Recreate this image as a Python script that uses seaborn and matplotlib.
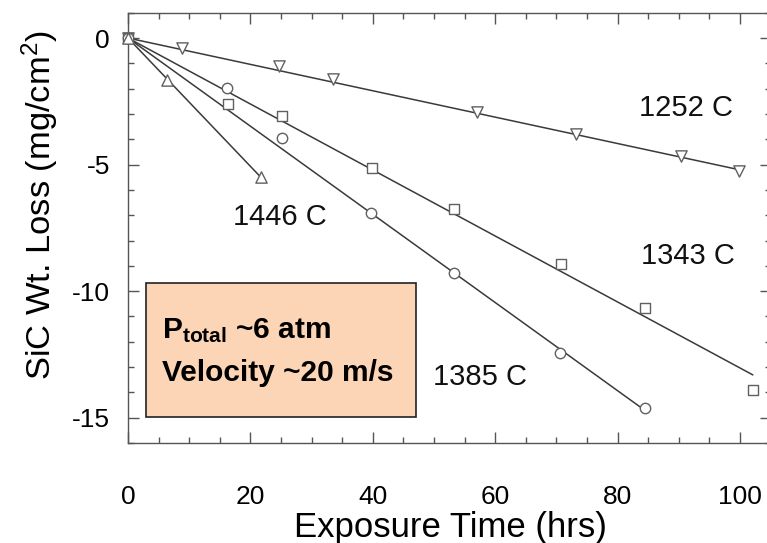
import matplotlib
matplotlib.use("Agg")
import matplotlib.pyplot as plt
from matplotlib.patches import Rectangle
from matplotlib.ticker import MultipleLocator
import seaborn as sns
import pandas as pd

# ---- data ----
t_1252 = [0, 8.9, 24.7, 33.5, 57.1, 73.2, 90.4, 99.8]
w_1252 = [0, -0.38, -1.10, -1.60, -2.93, -3.81, -4.66, -5.25]
t_1343 = [0, 16.3, 25.2, 39.9, 53.3, 70.75, 84.5, 102.1]
w_1343 = [0, -2.62, -3.10, -5.13, -6.75, -8.94, -10.66, -13.89]
t_1385 = [0, 16.1, 25.1, 39.7, 53.2, 70.6, 84.4]
w_1385 = [0, -1.99, -3.94, -6.90, -9.29, -12.43, -14.63]
t_1446 = [0, 6.3, 21.7]
w_1446 = [0, -1.66, -5.49]

# linear fit lines (end points; all start at origin)
fit_series = ["1252 C", "1343 C", "1385 C", "1446 C"]
fit_t_end = [99.8, 102.1, 84.4, 21.7]
fit_w_end = [-5.2, -13.31, -14.7, -5.5]

series_names = ["1252 C", "1343 C", "1385 C", "1446 C"]
series_markers = {"1252 C": "v", "1343 C": "s", "1385 C": "o", "1446 C": "^"}
series_sizes = {"1252 C": 66, "1343 C": 56, "1385 C": 56, "1446 C": 66}

pts = pd.concat([
    pd.DataFrame({"t": t_1252, "w": w_1252, "s": "1252 C"}),
    pd.DataFrame({"t": t_1343, "w": w_1343, "s": "1343 C"}),
    pd.DataFrame({"t": t_1385, "w": w_1385, "s": "1385 C"}),
    pd.DataFrame({"t": t_1446, "w": w_1446, "s": "1446 C"}),
], ignore_index=True)

fits = pd.concat([
    pd.DataFrame({"t": [0, te], "w": [0, we], "s": s})
    for s, te, we in zip(fit_series, fit_t_end, fit_w_end)
], ignore_index=True)

sns.set_theme(style="ticks")
plt.rcParams["font.family"] = ["Liberation Sans", "DejaVu Sans"]
plt.rcParams["axes.unicode_minus"] = False
plt.rcParams["mathtext.fontset"] = "custom"
plt.rcParams["mathtext.rm"] = "Liberation Sans"
plt.rcParams["mathtext.bf"] = "Liberation Sans:bold"
plt.rcParams["mathtext.it"] = "Liberation Sans:italic"
plt.rcParams["text.color"] = "black"
plt.rcParams["axes.labelcolor"] = "black"
plt.rcParams["xtick.labelcolor"] = "black"
plt.rcParams["ytick.labelcolor"] = "black"

fig = plt.figure(figsize=(7.67, 5.43), dpi=100)
ax = fig.add_axes([128 / 767, 100 / 543, (770.6 - 128) / 767, (443 - 12.7) / 543])

for s in series_names:
    sub = fits[fits.s == s]
    sns.lineplot(data=sub, x="t", y="w", ax=ax, color="#3a3a3a", lw=1.1,
                 sort=False, estimator=None, legend=False)
for s in series_names:
    sub = pts[pts.s == s]
    sns.scatterplot(data=sub, x="t", y="w", ax=ax, marker=series_markers[s],
                    s=series_sizes[s], facecolor="white", edgecolor="#606060",
                    linewidth=1.0, legend=False, zorder=3, clip_on=False)

ax.set_xlim(0, 105)
ax.set_ylim(-16, 1)
ax.xaxis.set_major_locator(MultipleLocator(20))
ax.xaxis.set_minor_locator(MultipleLocator(5))
ax.yaxis.set_major_locator(MultipleLocator(5))
ax.yaxis.set_minor_locator(MultipleLocator(1))
ax.tick_params(which="both", direction="in", top=True, right=True,
               color="#555555", width=1.0)
ax.tick_params(which="major", length=8)
ax.tick_params(which="minor", length=4)
ax.tick_params(axis="x", which="major", labelsize=19, pad=30)
ax.tick_params(axis="y", which="major", labelsize=19, pad=13)
for sp in ax.spines.values():
    sp.set_color("#555555")
    sp.set_linewidth(1.0)

ax.set_xlabel("Exposure Time (hrs)", fontsize=25)
ax.set_ylabel("SiC Wt. Loss (mg/cm$^2$)", fontsize=24.8)
ax.xaxis.set_label_coords((450 - 128) / (770.6 - 128), -(527 - 443) / (443 - 12.7))
ax.yaxis.set_label_coords(-(128 - 40) / (770.6 - 128), (443 - 205) / (443 - 12.7))
ax.xaxis.label.set_va("center")
ax.yaxis.label.set_va("center")

lab_kw = dict(fontsize=21, color="#111111", ha="center", va="center")
ax.text(91.2, -2.77, "1252 C", **lab_kw)
ax.text(91.5, -8.63, "1343 C", **lab_kw)
ax.text(57.5, -13.4, "1385 C", **lab_kw)
ax.text(24.8, -7.08, "1446 C", **lab_kw)

ax.add_patch(Rectangle((2.9, -14.96), 44.2, 5.3, facecolor="#FBD5B5",
                       edgecolor="#222222", lw=1.2, zorder=4))
ax.text(5.6, -11.55, r"P$_{\mathbf{total}}$ ~6 atm", fontsize=21.5,
        fontweight="bold", ha="left", va="center", zorder=5)
ax.text(5.6, -13.25, "Velocity ~20 m/s", fontsize=21.5,
        fontweight="bold", ha="left", va="center", zorder=5)

fig.savefig("out.png", dpi=100)
